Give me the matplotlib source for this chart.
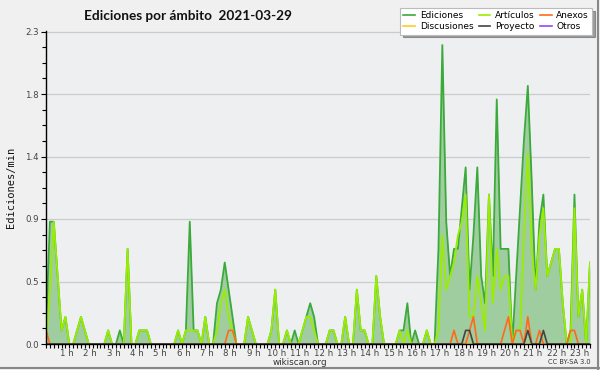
import matplotlib
matplotlib.use("Agg")
import matplotlib.pyplot as plt
from matplotlib.lines import Line2D
import matplotlib.transforms as mtransforms
import numpy as np

# 10-minute buckets, values in edits/min
ediciones = [0.1, 0.9, 0.9, 0.5, 0.1, 0.2, 0, 0, 0.1, 0.2,
             0.1, 0, 0, 0, 0, 0, 0.1, 0, 0, 0.1,
             0, 0.7, 0, 0, 0.1, 0.1, 0.1, 0, 0, 0,
             0, 0, 0, 0, 0.1, 0, 0.1, 0.9, 0.1, 0.1,
             0, 0.2, 0, 0, 0.3, 0.4, 0.6, 0.4, 0.2, 0,
             0, 0, 0.2, 0.1, 0, 0, 0, 0, 0.1, 0.4,
             0, 0, 0.1, 0, 0.1, 0, 0.1, 0.2, 0.3, 0.2,
             0, 0, 0, 0.1, 0.1, 0, 0, 0.2, 0, 0,
             0.4, 0.1, 0.1, 0, 0, 0.5, 0.2, 0, 0, 0,
             0, 0.1, 0.1, 0.3, 0, 0.1, 0, 0, 0.1, 0,
             0, 0.7, 2.2, 0.9, 0.5, 0.7, 0.7, 1.0, 1.3, 0.4,
             0.8, 1.3, 0.5, 0.3, 1.1, 0.5, 1.8, 0.7, 0.7, 0.7,
             0, 0.5, 1.0, 1.5, 1.9, 1.2, 0.4, 0.9, 1.1, 0.5,
             0.6, 0.7, 0.7, 0.3, 0, 0.1, 1.1, 0.2, 0.4, 0, 0.6]

articulos = [0, 0.4, 0.9, 0.5, 0.1, 0.2, 0, 0, 0.1, 0.2,
             0.1, 0, 0, 0, 0, 0, 0.1, 0, 0, 0,
             0, 0.7, 0, 0, 0.1, 0.1, 0.1, 0, 0, 0,
             0, 0, 0, 0, 0.1, 0, 0.1, 0.1, 0.1, 0.1,
             0, 0.2, 0, 0, 0.1, 0.3, 0.4, 0.2, 0.1, 0,
             0, 0, 0.2, 0.1, 0, 0, 0, 0, 0.1, 0.4,
             0, 0, 0.1, 0, 0, 0, 0.1, 0.2, 0.2, 0.1,
             0, 0, 0, 0.1, 0.1, 0, 0, 0.2, 0, 0,
             0.4, 0.1, 0.1, 0, 0, 0.5, 0.2, 0, 0, 0,
             0, 0.1, 0, 0.1, 0, 0, 0, 0, 0.1, 0,
             0, 0.1, 0.8, 0.4, 0.5, 0.6, 0.8, 0.9, 1.1, 0.2,
             0.2, 0.5, 0.3, 0.1, 1.1, 0.3, 0.7, 0.4, 0.5, 0.5,
             0, 0.1, 0.1, 0.8, 1.4, 0.7, 0.4, 0.8, 1.0, 0.5,
             0.6, 0.7, 0.7, 0.3, 0, 0, 1.0, 0.2, 0.4, 0, 0.6]

n_buckets = len(ediciones)
anexos_idx = [0, 47, 48, 105, 109, 110, 118, 119, 121, 122, 124, 127, 135, 136]
anexos_val = [0.1, 0.1, 0.1, 0.1, 0.1, 0.2, 0.1, 0.2, 0.1, 0.1, 0.2, 0.1, 0.1, 0.1]
proyecto_idx = [108, 109, 124, 128]
proyecto_val = [0.1, 0.1, 0.1, 0.1]

anexos = np.zeros(n_buckets)
anexos[anexos_idx] = anexos_val
proyecto = np.zeros(n_buckets)
proyecto[proyecto_idx] = proyecto_val
discusiones = np.zeros(n_buckets)
otros = np.zeros(n_buckets)

hour_labels = [f"{h} h" for h in range(1, 24)]
y_ticks = [0, 0.46, 0.92, 1.38, 1.84, 2.3]

x = np.arange(n_buckets)

W, H = 600, 370
fig = plt.figure(figsize=(6, 3.7), dpi=100, facecolor="#f0f0f0")
ax = fig.add_axes([46 / W, 26 / H, 544 / W, 312.5 / H])
ax.set_facecolor("#eeeff1")

c_edi = "#3aaa3a"
c_art = "#99ee00"
c_anx = "#ff6a1a"
c_dis = "#ffcc22"
c_pro = "#444444"
c_otr = "#9944ff"

ax.fill_between(x, ediciones, 0, color="#9fcd9f", lw=0, zorder=2)
ax.plot(x, otros, color=c_otr, lw=1.2, zorder=3)
ax.plot(x, discusiones, color=c_dis, lw=1.2, zorder=3)
ax.plot(x, ediciones, color=c_edi, lw=1.3, zorder=4)
ax.plot(x, articulos, color=c_art, lw=1.3, zorder=5)
ax.plot(x, anexos, color=c_anx, lw=1.2, zorder=6)
ax.plot(x, proyecto, color=c_pro, lw=1.2, zorder=7)

ax.set_xlim(0, n_buckets - 1)
ax.set_ylim(0, 2.3)

ax.set_yticks(y_ticks)
ax.set_yticklabels([f"{v:.1f}" for v in y_ticks])
ax.set_yticks(np.arange(0, 2.3001, 0.115), minor=True)
ax.set_xticks(np.arange(6, 24 * 6, 6))
ax.set_xticklabels(hour_labels)
ax.set_xticks(np.arange(0, n_buckets, 1), minor=True)

ax.tick_params(axis="both", which="major", direction="out", length=3.5, width=0.8,
               labelsize=6.2, labelcolor="#444444", pad=1.5)
ax.tick_params(axis="both", which="minor", direction="out", length=3, width=0.8)
ax.tick_params(axis="x", which="major", length=3, pad=0.8)

offset = mtransforms.ScaledTranslation(-2.5 / 100, 0, fig.dpi_scale_trans)
for lbl in ax.get_xticklabels():
    lbl.set_transform(lbl.get_transform() + offset)

ax.grid(axis="y", which="major", color="#cccccc", lw=0.9, zorder=1)
ax.set_axisbelow(True)
for s in ["top", "right"]:
    ax.spines[s].set_visible(False)
for s in ["left", "bottom"]:
    ax.spines[s].set_linewidth(1.0)
    ax.spines[s].set_color("black")
    ax.spines[s].set_zorder(8)

fig.text(11 / W, 1 - 187 / H, "Ediciones/min", rotation=90,
         ha="center", va="center", fontsize=7.5, family="DejaVu Sans Mono", color="#111111")

fig.text(188 / W, 1 - 16 / H, "Ediciones por ámbito  2021-03-29", ha="center", va="center",
         fontsize=9.8, fontweight="bold", color="#111111",
         family=["Lato", "DejaVu Sans"])

fig.text(300 / W, 1 - 362.5 / H, "wikiscan.org", ha="center", va="center",
         fontsize=6.3, color="#333333")
fig.text(569 / W, 1 - 362.5 / H, "CC BY-SA 3.0", ha="center", va="center",
         fontsize=4.8, color="#333333")

handles = [
    Line2D([], [], color=c_edi, lw=1.2), Line2D([], [], color=c_dis, lw=1.2),
    Line2D([], [], color=c_art, lw=1.2), Line2D([], [], color=c_pro, lw=1.2),
    Line2D([], [], color=c_anx, lw=1.2), Line2D([], [], color=c_otr, lw=1.2),
]
labels = ["Ediciones", "Discusiones", "Artículos", "Proyecto", "Anexos", "Otros"]
leg = fig.legend(handles, labels, ncol=3, loc="upper right",
                 bbox_to_anchor=(592 / W, 1 - 8 / H), fontsize=6.5,
                 frameon=True, fancybox=False, shadow=True, edgecolor="#bbbbbb",
                 handlelength=1.3, handletextpad=0.5, columnspacing=0.6,
                 labelspacing=0.25, borderpad=0.35, borderaxespad=0)
leg.get_frame().set_linewidth(0.8)
leg.set_zorder(20)

# figure border (right and bottom)
fig.add_artist(Line2D([597.5 / W, 597.5 / W], [0, 1], color="#888888", lw=1.5, transform=fig.transFigure))
fig.add_artist(Line2D([0, 1], [1 - 368 / H, 1 - 368 / H], color="#888888", lw=1.5, transform=fig.transFigure))

fig.savefig("out.png", dpi=100, facecolor=fig.get_facecolor())
